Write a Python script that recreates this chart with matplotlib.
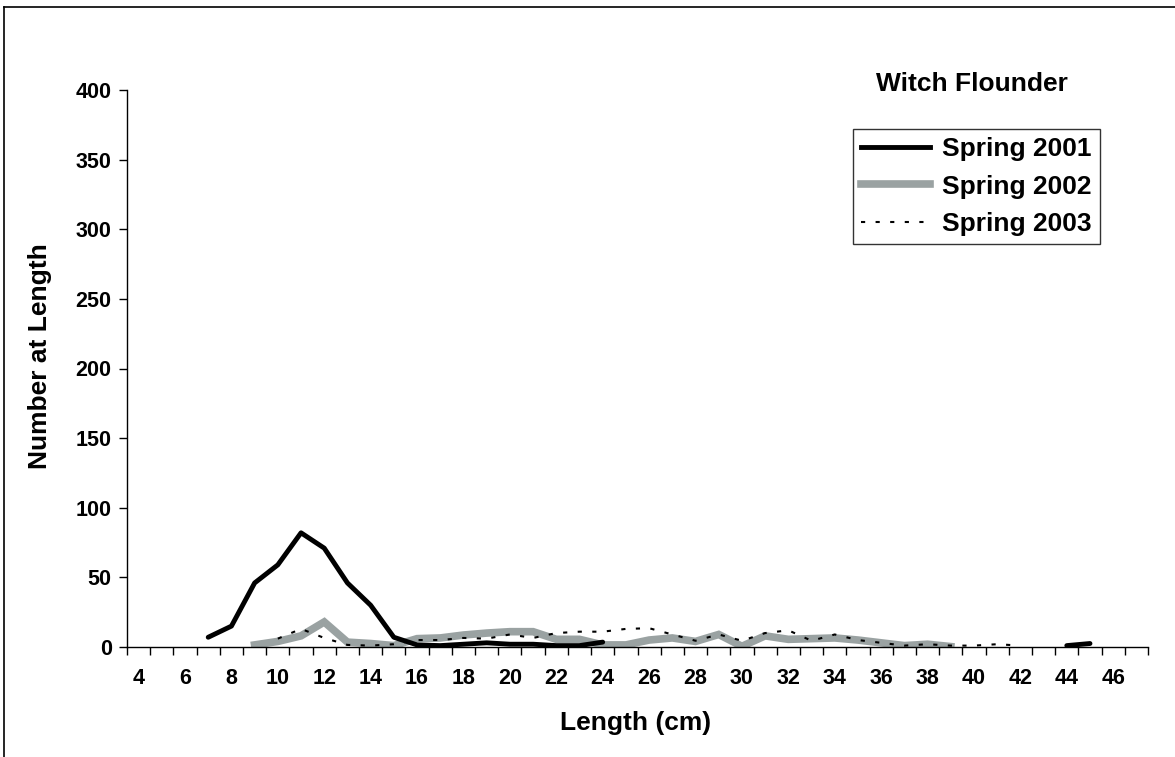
import matplotlib
matplotlib.use("Agg")
import matplotlib.pyplot as plt
from matplotlib.lines import Line2D
import numpy as np

categories = list(range(4, 48))
tick_labels = [str(c) if c % 2 == 0 and c <= 46 else "" for c in categories]

len_2001 = [7, 8, 9, 10, 11, 12, 13, 14, 15, 16, 17, 18, 19, 20, 21, 22, 23, 24]
val_2001 = [7, 15, 46, 59, 82, 71, 46, 30, 7, 1.5, 1, 2, 3, 2, 2, 1, 1, 3.5]
len_2001b = [44, 45]
val_2001b = [1, 2.5]

len_2002 = list(range(9, 40))
val_2002 = [1.5, 4, 8, 18, 3.5, 2.5, 1, 6, 6.5, 8.6, 10, 11, 11, 5.5, 5.5, 1.5, 1.5,
            5, 6.5, 4, 9, 0.5, 8, 5.5, 6, 6.5, 5, 3, 1, 2, 0.3]

len_2003 = list(range(10, 43))
val_2003 = [6, 13, 6.5, 1.5, 1, 2, 5, 5, 6.5, 6, 9, 6.5, 10, 11, 11, 13, 13.5,
            9, 4.5, 9, 4.5, 10, 12, 4.5, 9, 5, 3, 1, 2, 1, 1, 2, 1]

W, H = 1175, 757
fig = plt.figure(figsize=(W / 100, H / 100), dpi=100)
FONT = "Liberation Sans"
TICK_FS = 15.5

# axes placement in pixels
x0, x1 = 127, 1148
y0, y1 = 90, 647
ax = fig.add_axes([x0 / W, 1 - y1 / H, (x1 - x0) / W, (y1 - y0) / H])

def xpos(c):
    return c - 4 + 0.5

ax.plot([xpos(c) for c in len_2001], val_2001, color="black", lw=3.5,
        solid_capstyle="round", solid_joinstyle="round", zorder=3)
ax.plot([xpos(c) for c in len_2001b], val_2001b, color="black", lw=3.5,
        solid_capstyle="round", zorder=3)
ax.plot([xpos(c) for c in len_2002], val_2002, color="#9aa2a2", lw=5.5,
        solid_joinstyle="miter", zorder=2)
ax.plot([xpos(c) for c in len_2003], val_2003, color="black", lw=1.5,
        linestyle=(0, (2, 5)), zorder=4)

ax.set_xlim(0, len(categories))
ax.set_ylim(0, 400)
ax.set_yticks(np.arange(0, 401, 50))
ax.set_yticklabels([str(v) for v in range(0, 401, 50)], fontsize=TICK_FS,
                   fontweight="bold", family=FONT)
ax.set_xticks(np.arange(0, len(categories) + 1), minor=False)
ax.set_xticklabels([""] * (len(categories) + 1))
ax.set_xticks([xpos(c) for c in categories], minor=True)
ax.set_xticklabels(tick_labels, minor=True, fontsize=TICK_FS, fontweight="bold",
                   family=FONT)
ax.tick_params(axis="x", which="major", direction="out", length=6, width=1,
               top=False)
ax.tick_params(axis="x", which="minor", length=0, pad=15)
ax.tick_params(axis="y", direction="out", length=6, width=1, pad=5)

for s in ["top", "right"]:
    ax.spines[s].set_visible(False)
ax.spines["left"].set_linewidth(1)
ax.spines["bottom"].set_linewidth(1)

ax.set_xlabel("Length (cm)", fontsize=19, fontweight="bold", family=FONT)
ax.xaxis.set_label_coords((636 - x0) / (x1 - x0), -(711 - y1) / (y1 - y0))
ax.set_ylabel("Number at Length", fontsize=19, fontweight="bold", family=FONT)
ax.yaxis.set_label_coords(-(x0 - 52) / (x1 - x0), (y1 - 356) / (y1 - y0))

fig.text(972 / W, 1 - 84 / H, "Witch Flounder", fontsize=19, fontweight="bold",
         family=FONT, ha="center", va="center")

handles = [
    Line2D([], [], color="black", lw=3.5),
    Line2D([], [], color="#9aa2a2", lw=5.5),
    Line2D([], [], color="black", lw=1.5, linestyle=(0, (2, 5))),
]
leg = fig.legend(handles, ["Spring 2001", "Spring 2002", "Spring 2003"],
                 loc="upper left", bbox_to_anchor=(853 / W, 1 - 129 / H),
                 prop={"family": FONT, "weight": "bold", "size": 19},
                 frameon=True, fancybox=False, edgecolor="black",
                 handlelength=2.6, handletextpad=0.45, borderpad=0.32,
                 labelspacing=0.5, borderaxespad=0)
leg.get_frame().set_linewidth(1)

# outer chart frame
fig.add_artist(Line2D([4 / W, 4 / W], [0, 1 - 7 / H], color="black", lw=1.2,
                      transform=fig.transFigure))
fig.add_artist(Line2D([4 / W, 1], [1 - 7 / H, 1 - 7 / H], color="black", lw=1.2,
                      transform=fig.transFigure))

fig.savefig("out.png", dpi=100)
